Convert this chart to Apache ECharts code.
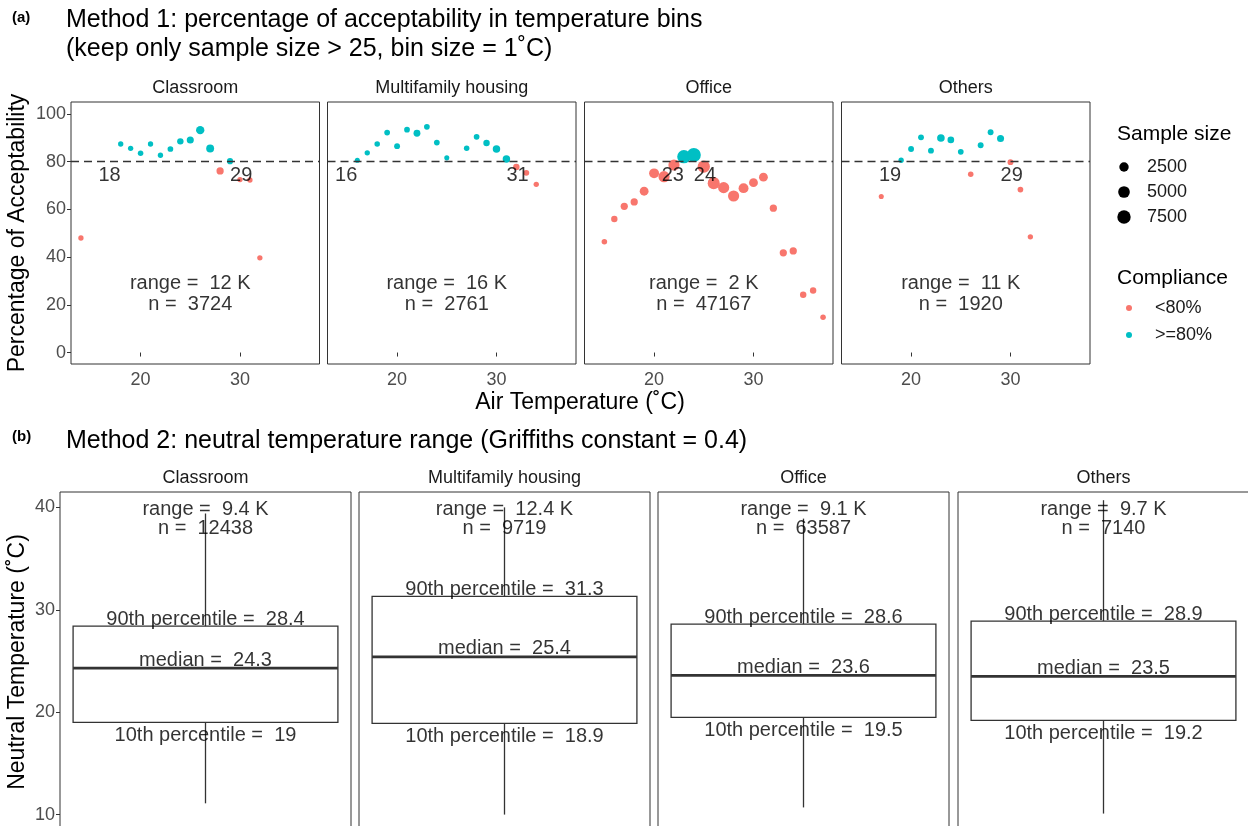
<!DOCTYPE html>
<html>
<head>
<meta charset="utf-8">
<script src="https://cdn.jsdelivr.net/npm/echarts@6/dist/echarts.min.js"></script>
<style>
  html, body { margin: 0; padding: 0; background: #fff; }
  #chart { width: 1248px; height: 826px; }
</style>
</head>
<body>
<div id="chart"></div>
<script>
  // facets
  const panels = ['Classroom', 'Multifamily housing', 'Office', 'Others']

  // Method 1: temperature bin (°C), acceptability (%), sample size of the bin
  const classroomTemp = [14, 18, 19, 20, 21, 22, 23, 24, 25, 26, 27, 28, 29, 30, 31, 32]
  const classroomAccept = [48, 87.4, 85.6, 83.5, 87.4, 82.7, 85.3, 88.5, 89.1, 93.2, 85.5, 76.1, 80.2, 72.5, 72.3, 39.7]
  const classroomSize = [150, 150, 150, 200, 150, 150, 250, 500, 800, 1600, 1300, 900, 400, 150, 150, 150]

  const housingTemp = [16, 17, 18, 19, 20, 21, 22, 23, 24, 25, 27, 28, 29, 30, 31, 32, 33, 34]
  const housingAccept = [80.6, 83.7, 87.4, 92.2, 86.5, 93.4, 91.9, 94.6, 88.0, 81.6, 85.6, 90.4, 87.8, 85.3, 81.1, 77.8, 75.3, 70.5]
  const housingSize = [100, 150, 200, 250, 300, 250, 700, 250, 250, 100, 200, 250, 500, 1000, 1000, 500, 300, 150]

  const officeTemp = [15, 16, 17, 18, 19, 20, 21, 22, 23, 24, 25, 26, 27, 28, 29, 30, 31, 32, 33, 34, 35, 36, 37]
  const officeAccept = [46.4, 56.0, 61.3, 63.1, 67.6, 75.1, 73.7, 78.6, 82.1, 82.8, 77.9, 71.0, 69.1, 65.6, 68.9, 71.2, 73.5, 60.5, 41.8, 42.6, 24.2, 26.0, 14.8]
  const officeSize = [200, 500, 900, 900, 2000, 3000, 4400, 4400, 7500, 8500, 5900, 5500, 4400, 4400, 3000, 2000, 2000, 900, 900, 900, 500, 500, 200]

  const othersTemp = [17, 19, 20, 21, 22, 23, 24, 25, 26, 27, 28, 29, 30, 31, 32]
  const othersAccept = [65.4, 80.6, 85.3, 90.2, 84.6, 89.9, 89.1, 84.1, 74.7, 86.9, 92.3, 89.7, 79.8, 68.3, 48.5]
  const othersSize = [100, 150, 300, 300, 300, 1100, 600, 250, 200, 300, 300, 800, 300, 250, 150]

  const binTemps = [classroomTemp, housingTemp, officeTemp, othersTemp]
  const binAccept = [classroomAccept, housingAccept, officeAccept, othersAccept]
  const binSizes = [classroomSize, housingSize, officeSize, othersSize]

  // bounds of the 80% compliant range, range width (K) and n per facet
  const lowBound = [18, 16, 23, 19]
  const highBound = [29, 31, 24, 29]
  const rangeK1 = [12, 16, 2, 11]
  const count1 = [3724, 2761, 47167, 1920]
  const threshold = 80

  // Method 2: neutral temperature [min, 10th, median, 90th, max]
  const neutralStats = [
    [11.1, 19, 24.3, 28.4, 39.4],
    [10.0, 18.9, 25.4, 31.3, 40.0],
    [10.7, 19.5, 23.6, 28.6, 38.9],
    [10.1, 19.2, 23.5, 28.9, 40.7]
  ]
  const rangeK2 = [9.4, 12.4, 9.1, 9.7]
  const count2 = [12438, 9719, 63587, 7140]

  const legendSizes = [2500, 5000, 7500]

  const FONT = '"Liberation Sans", Arial, sans-serif'
  const red = '#F8766D'
  const teal = '#00BFC4'
  const ink = '#333333'

  // layout
  const topLeft = [71, 327.5, 584.5, 841.5]
  const topWidth = 248.5
  const botLeft = [60, 359, 658, 958]
  const botWidth = 291

  // point diameter grows with the square root of the sample size
  const sizeOf = (n) => 4 + 10 * Math.sqrt(n / 8500)

  const grid = []
  const xAxis = []
  const yAxis = []
  const series = []

  /** top row: percentage of acceptability */
  panels.forEach((name, i) => {
    grid.push({ left: topLeft[i], top: 102, width: topWidth, height: 262, outerBoundsMode: 'none', show: true, borderColor: ink, borderWidth: 1, backgroundColor: 'transparent' })
    xAxis.push({
      type: 'value', gridIndex: i, min: 13, max: 38,
      axisLine: { show: false },
      splitLine: { show: false },
      axisTick: { show: true, customValues: [20, 30], length: 4, lineStyle: { color: ink } },
      axisLabel: { customValues: [20, 30], color: '#4d4d4d', fontSize: 18, fontFamily: FONT, margin: 7 }
    })
    yAxis.push({
      type: 'value', gridIndex: i, min: -4.8, max: 105,
      axisLine: { show: false },
      splitLine: { show: false },
      axisTick: { show: i === 0, customValues: [0, 20, 40, 60, 80, 100], length: 4, lineStyle: { color: ink } },
      axisLabel: { show: i === 0, customValues: [0, 20, 40, 60, 80, 100], color: '#4d4d4d', fontSize: 18, fontFamily: FONT, margin: 5 }
    })
    const pts = binTemps[i].map((t, k) => [t, binAccept[i][k], binSizes[i][k]])
    series.push({
      name: '<80%', type: 'scatter', xAxisIndex: i, yAxisIndex: i,
      data: pts.filter((p) => p[1] < threshold),
      symbolSize: (v) => sizeOf(v[2]),
      itemStyle: { color: red, opacity: 1 },
      z: 3,
      markLine: {
        silent: true, symbol: ['none', 'none'], label: { show: false },
        lineStyle: { type: [8, 5], color: ink, width: 1.4 },
        data: [{ yAxis: threshold }]
      }
    })
    series.push({
      name: '>=80%', type: 'scatter', xAxisIndex: i, yAxisIndex: i,
      data: pts.filter((p) => p[1] >= threshold),
      symbolSize: (v) => sizeOf(v[2]),
      itemStyle: { color: teal, opacity: 1 },
      z: 4
    })
    // bound labels and summary text
    const txt = { show: true, color: '#000', fontSize: 20, fontFamily: FONT }
    series.push({
      type: 'scatter', xAxisIndex: i, yAxisIndex: i, symbolSize: 0, silent: true, z: 6,
      data: [
        { value: [lowBound[i], 74.4], label: { ...txt, position: 'left', distance: 0, formatter: String(lowBound[i]) } },
        { value: [highBound[i], 74.4], label: { ...txt, position: 'right', distance: 0, formatter: String(highBound[i]) } },
        { value: [25, 29], label: { ...txt, position: 'inside', formatter: 'range =  ' + rangeK1[i] + ' K' } },
        { value: [25, 20], label: { ...txt, position: 'inside', formatter: 'n =  ' + count1[i] } }
      ]
    })
  })

  /** bottom row: neutral temperature box plots */
  panels.forEach((name, i) => {
    const g = i + 4
    grid.push({ left: botLeft[i], top: 492, width: botWidth, height: 340, outerBoundsMode: 'none', show: true, borderColor: ink, borderWidth: 1, backgroundColor: 'transparent' })
    xAxis.push({ type: 'category', gridIndex: g, data: [name], show: false })
    yAxis.push({
      type: 'value', gridIndex: g, min: 8.3, max: 41.5,
      axisLine: { show: false },
      splitLine: { show: false },
      axisTick: { show: i === 0, customValues: [10, 20, 30, 40], length: 4, lineStyle: { color: ink } },
      axisLabel: { show: i === 0, customValues: [10, 20, 30, 40], color: '#4d4d4d', fontSize: 18, fontFamily: FONT, margin: 5 }
    })
    series.push({
      type: 'custom', xAxisIndex: g, yAxisIndex: g, silent: true, z: 3,
      encode: { x: 0, y: [1, 2, 3, 4, 5] },
      data: [[0, ...neutralStats[i]]],
      renderItem: (params, api) => {
        const x = api.coord([api.value(0), api.value(3)])[0]
        const half = api.size([1, 0])[0] * 0.455
        const y = (k) => api.coord([api.value(0), api.value(k)])[1]
        const style = { stroke: ink, lineWidth: 1.3, fill: null }
        return {
          type: 'group',
          children: [
            { type: 'line', shape: { x1: x, y1: y(5), x2: x, y2: y(4) }, style },
            { type: 'line', shape: { x1: x, y1: y(2), x2: x, y2: y(1) }, style },
            { type: 'rect', shape: { x: x - half, y: y(4), width: half * 2, height: y(2) - y(4) }, style },
            { type: 'line', shape: { x1: x - half, y1: y(3), x2: x + half, y2: y(3) }, style: { stroke: ink, lineWidth: 2.8 } }
          ]
        }
      }
    })
    const s = neutralStats[i]
    const txt = { show: true, color: '#000', fontSize: 20, fontFamily: FONT }
    series.push({
      type: 'scatter', xAxisIndex: g, yAxisIndex: g, symbolSize: 0, silent: true, z: 5,
      data: [
        { value: [0, 39.8], label: { ...txt, position: 'inside', formatter: 'range =  ' + rangeK2[i] + ' K' } },
        { value: [0, 37.9], label: { ...txt, position: 'inside', formatter: 'n =  ' + count2[i] } },
        { value: [0, s[3]], label: { ...txt, position: 'top', distance: -3, formatter: '90th percentile =  ' + s[3] } },
        { value: [0, s[2]], label: { ...txt, position: 'top', distance: -2, formatter: 'median =  ' + s[2] } },
        { value: [0, s[1]], label: { ...txt, position: 'bottom', distance: 3, formatter: '10th percentile =  ' + s[1] } }
      ]
    })
  })

  const legend = [{
    data: ['<80%', '>=80%'], orient: 'vertical', left: 1121, top: 294,
    icon: 'circle', itemWidth: 6, itemHeight: 6, itemGap: 9, selectedMode: false,
    textStyle: { fontSize: 18, color: '#1a1a1a', fontFamily: FONT, padding: [0, 0, 0, 18] }
  }]

  const text = (x, y, str, size, extra) => ({
    type: 'text', x, y, silent: true,
    style: { text: str, fontSize: size, fontFamily: FONT, fill: '#000', textAlign: 'left', textVerticalAlign: 'middle', ...extra }
  })
  const graphic = [
    text(12, 18, '(a)', 15, { fontWeight: 'bold' }),
    text(66, 20, 'Method 1: percentage of acceptability in temperature bins', 25),
    text(66, 49, '(keep only sample size > 25, bin size = 1˚C)', 25),
    text(12, 437, '(b)', 15, { fontWeight: 'bold' }),
    text(66, 441, 'Method 2: neutral temperature range (Griffiths constant = 0.4)', 25),
    text(580, 403, 'Air Temperature (˚C)', 23, { textAlign: 'center' }),
    { ...text(18, 233, 'Percentage of Acceptability', 23, { textAlign: 'center' }), rotation: Math.PI / 2 },
    { ...text(18, 662, 'Neutral Temperature (˚C)', 23, { textAlign: 'center' }), rotation: Math.PI / 2 },
    text(1117, 134, 'Sample size', 21),
    text(1117, 278, 'Compliance', 21),
    // sample size keys, same size scale as the points
    ...legendSizes.flatMap((n, k) => [
      { type: 'circle', silent: true, shape: { cx: 1124, cy: 167 + k * 25, r: sizeOf(n) / 2 }, style: { fill: '#000' } },
      text(1147, 167 + k * 25, String(n), 18, { fill: '#1a1a1a' })
    ]),
    ...panels.map((p, i) => text(topLeft[i] + topWidth / 2, 88, p, 18, { textAlign: 'center', fill: '#1a1a1a' })),
    ...panels.map((p, i) => text(botLeft[i] + botWidth / 2, 478, p, 18, { textAlign: 'center', fill: '#1a1a1a' }))
  ]

  const chart = echarts.init(document.getElementById('chart'))
  chart.setOption({
    animation: false,
    backgroundColor: '#fff',
    grid,
    xAxis,
    yAxis,
    legend,
    graphic,
    series
  })
</script>
</body>
</html>
